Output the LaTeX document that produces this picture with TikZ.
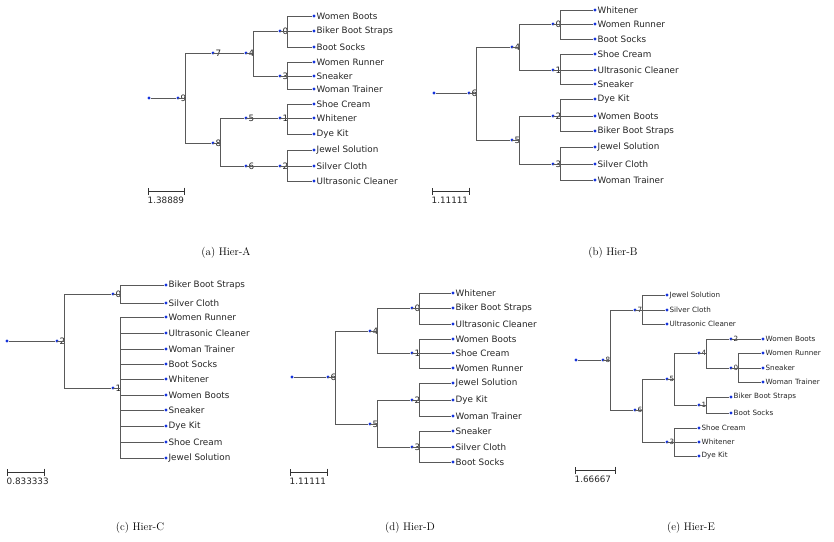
\documentclass[tikz,border=0pt]{standalone}
\usepackage{fontspec}
\newfontfamily\dejavu{DejaVu Sans}
\usetikzlibrary{arrows.meta}
\tikzset{every picture/.style={line width=0.75pt}}
\tikzset{
  dot/.style={circle,fill={rgb,255:red,20;green,50;blue,220},inner sep=0pt,minimum size=3.2pt},
  lbl/.style={font=\dejavu\fontsize{8.8}{9}\selectfont,inner sep=0.3pt,text=black!85},
  leaf/.style={dot,label={[lbl]right:#1}},
  inner/.style={dot,label={[lbl]right:#1}},
  edge/.style={draw=black!65,line width=1pt},
  bar/.style={draw=black!80,line width=1pt,{Bar[width=7pt]}-{Bar[width=7pt]}},
  captext/.style={font=\fontsize{11}{13}\selectfont}
}
% elbow from a parent dot to its children
\newcommand\elbow[2]{\draw[edge] (#1.center) -- ([xshift=7]#1.center);
  \foreach \c in {#2} \draw[edge] ([xshift=7]#1.center) |- (\c.west);}
\begin{document}
\begin{tikzpicture}[x=1pt,y=1pt,yscale=-1]
\path[fill=white] (0,0) rectangle (834,541);

% (a) Hier-A
\node[dot] (ar) at (149,98) {};
\node[inner=9] (a9) at (178,98) {};
\node[inner=7] (a7) at (213,53) {};
\node[inner=8] (a8) at (213,143) {};
\node[inner=4] (a4) at (246,53) {};
\node[inner=5] (a5) at (246,118) {};
\node[inner=6] (a6) at (246,166) {};
\node[inner=0] (a0) at (280,31) {};
\node[inner=3] (a3) at (280,76) {};
\node[inner=1] (a1) at (280,118) {};
\node[inner=2] (a2) at (280,166) {};
\foreach \n/\y/\t in {1/16/Women Boots,2/31/Biker Boot Straps,3/47/Boot Socks,4/62/Women Runner,
  5/76/Sneaker,6/89/Woman Trainer,7/104/Shoe Cream,8/118/Whitener,9/134/Dye Kit,
  10/150/Jewel Solution,11/166/Silver Cloth,12/181/Ultrasonic Cleaner}
  \node[leaf=\t] (aL\n) at (314,\y) {};
\draw[edge] (ar) -- (a9);
\elbow{a9}{a7,a8} \elbow{a7}{a4} \elbow{a4}{a0,a3} \elbow{a8}{a5,a6}
\elbow{a5}{a1} \elbow{a6}{a2}
\elbow{a0}{aL1,aL2,aL3} \elbow{a3}{aL4,aL5,aL6} \elbow{a1}{aL7,aL8,aL9} \elbow{a2}{aL10,aL11,aL12}
\coordinate (aS1) at (148,191); \coordinate (aS2) at (185,191);
\draw[bar] (aS1) -- (aS2);
\node[lbl,anchor=north west] (aSt) at (147,196) {1.38889};
\node[captext] (aC) at (226,253) {(a) Hier-A};

% (b) Hier-B
\node[dot] (br) at (434,93) {};
\node[inner=6] (b6) at (469,93) {};
\node[inner=4] (b4) at (512,47) {};
\node[inner=5] (b5) at (512,140) {};
\node[inner=0] (b0) at (553,24) {};
\node[inner=1] (b1) at (553,70) {};
\node[inner=2] (b2) at (553,116) {};
\node[inner=3] (b3) at (553,164) {};
\foreach \n/\y/\t in {1/10/Whitener,2/24/Women Runner,3/39/Boot Socks,4/54/Shoe Cream,
  5/70/Ultrasonic Cleaner,6/84/Sneaker,7/99/Dye Kit,8/116/Women Boots,9/131/Biker Boot Straps,
  10/147/Jewel Solution,11/164/Silver Cloth,12/180/Woman Trainer}
  \node[leaf=\t] (bL\n) at (595,\y) {};
\draw[edge] (br) -- (b6);
\elbow{b6}{b4,b5} \elbow{b4}{b0,b1} \elbow{b5}{b2,b3}
\elbow{b0}{bL1,bL2,bL3} \elbow{b1}{bL4,bL5,bL6} \elbow{b2}{bL7,bL8,bL9} \elbow{b3}{bL10,bL11,bL12}
\coordinate (bS1) at (432,191); \coordinate (bS2) at (470,191);
\draw[bar] (bS1) -- (bS2);
\node[lbl,anchor=north west] (bSt) at (431,196) {1.11111};
\node[captext] (bC) at (613,253) {(b) Hier-B};

% (c) Hier-C
\node[dot] (cr) at (7,341) {};
\node[inner=2] (c2) at (57,341) {};
\node[inner=0] (c0) at (113,294) {};
\node[inner=1] (c1) at (113,388) {};
\foreach \n/\y/\t in {1/285/Biker Boot Straps,2/303/Silver Cloth}
  \node[leaf=\t] (cL\n) at (166,\y) {};
\foreach \n/\y/\t in {3/317/Women Runner,4/333/Ultrasonic Cleaner,5/349/Woman Trainer,
  6/364/Boot Socks,7/379/Whitener,8/395/Women Boots,9/410/Sneaker,10/426/Dye Kit,
  11/442/Shoe Cream,12/458/Jewel Solution}
  \node[leaf=\t] (cL\n) at (166,\y) {};
\draw[edge] (cr) -- (c2);
\elbow{c2}{c0,c1} \elbow{c0}{cL1,cL2}
\elbow{c1}{cL3,cL4,cL5,cL6,cL7,cL8,cL9,cL10,cL11,cL12}
\coordinate (cS1) at (7,472); \coordinate (cS2) at (45,472);
\draw[bar] (cS1) -- (cS2);
\node[lbl,anchor=north west] (cSt) at (6,477) {0.833333};
\node[captext] (cC) at (140,528) {(c) Hier-C};

% (d) Hier-D
\node[dot] (dr) at (292,377) {};
\node[inner=6] (d6) at (328,377) {};
\node[inner=4] (d4) at (370,331) {};
\node[inner=5] (d5) at (370,424) {};
\node[inner=0] (d0) at (412,308) {};
\node[inner=1] (d1) at (412,353) {};
\node[inner=2] (d2) at (412,400) {};
\node[inner=3] (d3) at (412,447) {};
\foreach \n/\y/\t in {1/293/Whitener,2/308/Biker Boot Straps,3/324/Ultrasonic Cleaner,
  4/339/Women Boots,5/353/Shoe Cream,6/368/Women Runner,7/383/Jewel Solution,8/400/Dye Kit,
  9/416/Woman Trainer,10/431/Sneaker,11/447/Silver Cloth,12/462/Boot Socks}
  \node[leaf=\t] (dL\n) at (453,\y) {};
\draw[edge] (dr) -- (d6);
\elbow{d6}{d4,d5} \elbow{d4}{d0,d1} \elbow{d5}{d2,d3}
\elbow{d0}{dL1,dL2,dL3} \elbow{d1}{dL4,dL5,dL6} \elbow{d2}{dL7,dL8,dL9} \elbow{d3}{dL10,dL11,dL12}
\coordinate (dS1) at (290,472); \coordinate (dS2) at (328,472);
\draw[bar] (dS1) -- (dS2);
\node[lbl,anchor=north west] (dSt) at (289,477) {1.11111};
\node[captext] (dC) at (410,528) {(d) Hier-D};

% (e) Hier-E
\begin{scope}[lbl/.append style={font=\dejavu\fontsize{7.2}{8}\selectfont}]
\node[dot] (er) at (576,360) {};
\node[inner=8] (e8) at (603,360) {};
\node[inner=7] (e7) at (635,310) {};
\node[inner=6] (e6) at (635,410) {};
\node[inner=5] (e5) at (667,379) {};
\node[inner=3] (e3) at (667,442) {};
\node[inner=4] (e4) at (699,353) {};
\node[inner=1] (e1) at (699,405) {};
\node[inner=2] (e2) at (731,339) {};
\node[inner=0] (e0) at (731,368) {};
\foreach \n/\y/\t in {1/295/Jewel Solution,2/310/Silver Cloth,3/324/Ultrasonic Cleaner}
  \node[leaf=\t] (eL\n) at (667,\y) {};
\foreach \n/\y/\t in {4/339/Women Boots,5/353/Women Runner,6/368/Sneaker,7/382/Woman Trainer}
  \node[leaf=\t] (eL\n) at (763,\y) {};
\foreach \n/\y/\t in {8/397/Biker Boot Straps,9/413/Boot Socks}
  \node[leaf=\t] (eL\n) at (731,\y) {};
\foreach \n/\y/\t in {10/428/Shoe Cream,11/442/Whitener,12/456/Dye Kit}
  \node[leaf=\t] (eL\n) at (699,\y) {};
\draw[edge] (er) -- (e8);
\elbow{e8}{e7,e6} \elbow{e7}{eL1,eL2,eL3} \elbow{e6}{e5,e3} \elbow{e5}{e4,e1}
\elbow{e4}{e2,e0} \elbow{e2}{eL4} \elbow{e0}{eL5,eL6,eL7} \elbow{e1}{eL8,eL9}
\elbow{e3}{eL10,eL11,eL12}
\coordinate (eS1) at (575,470); \coordinate (eS2) at (616,470);
\draw[bar] (eS1) -- (eS2);
\node[lbl,font=\dejavu\fontsize{8.8}{9}\selectfont,anchor=north west] (eSt) at (574,475) {1.66667};
\end{scope}
\node[captext] (eC) at (691,528) {(e) Hier-E};
\end{tikzpicture}
\end{document}
